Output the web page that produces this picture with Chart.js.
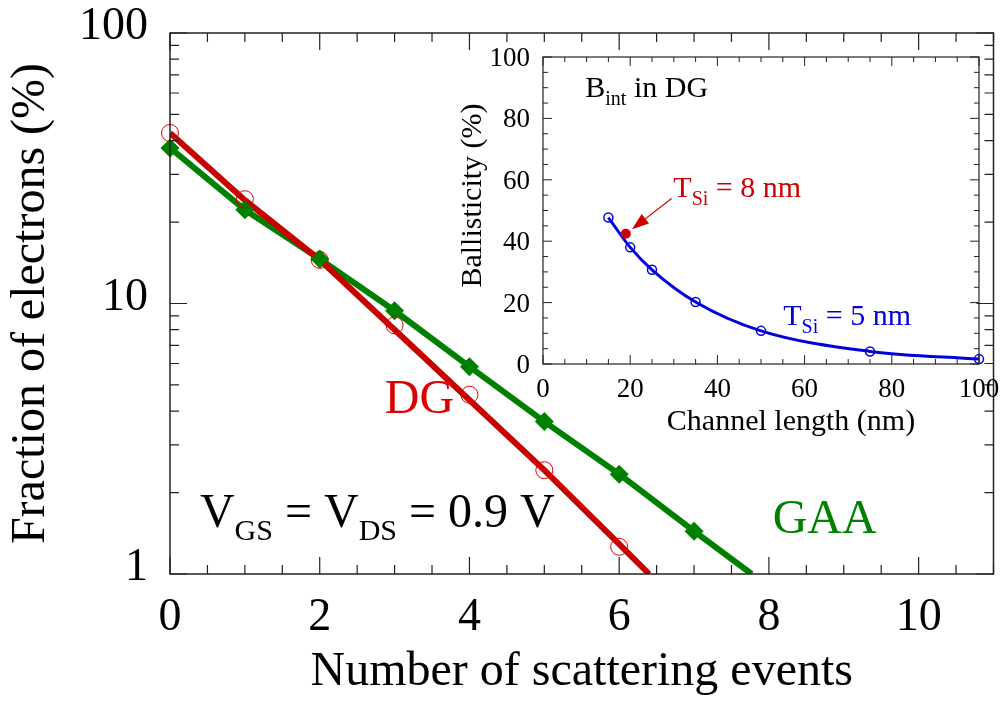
<!DOCTYPE html>
<html>
<head>
<meta charset="utf-8">
<script src="https://cdn.jsdelivr.net/npm/chart.js@4.4.1/dist/chart.umd.min.js"></script>
<style>
  html, body { margin: 0; padding: 0; background: #fff; }
  #wrap { position: relative; width: 1003px; height: 707px; }
  #mainChart { position: absolute; left: 0; top: 0; }
  #insetChart { position: absolute; left: 440px; top: 40px; }
</style>
</head>
<body>
<div id="wrap">
  <canvas id="mainChart" width="1003" height="707"></canvas>
  <canvas id="insetChart" width="560" height="420"></canvas>
</div>
<script>
const SERIF = '"Liberation Serif", "Times New Roman", serif';

// main plot: fraction of electrons vs number of scattering events
const dgEvents = [0, 1, 2, 3, 4, 5, 6];
const dgFraction = [42.7, 24.3, 14.5, 8.3, 4.6, 2.42, 1.26];
const dgFitEvents = [0, 1, 2, 3, 4, 5, 6, 6.4];
const dgFitFraction = [42.7, 24.1, 14.5, 8.0, 4.4, 2.42, 1.29, 1.0];
const gaaEvents = [0, 1, 2, 3, 4, 5, 6, 7];
const gaaFraction = [37.6, 22.2, 14.6, 9.4, 5.84, 3.66, 2.34, 1.44];
const gaaFitEvents = [0, 1, 2, 3, 4, 5, 6, 7, 7.77];
const gaaFitFraction = [37.6, 22.2, 14.6, 9.4, 5.84, 3.66, 2.34, 1.44, 1.0];
const mainXTicks = [0, 2, 4, 6, 8, 10];
const mainYTicks = [1, 10, 100];

// inset: ballisticity vs channel length
const channelLength = [15, 20, 25, 35, 50, 75, 100];
const ballisticity = [47.7, 38.0, 30.7, 20.2, 10.8, 4.1, 1.6];
const tsi8Length = [19];
const tsi8Ballisticity = [42.4];
const insetTicks = [0, 20, 40, 60, 80, 100];

const pts = (xs, ys) => xs.map((x, i) => ({ x, y: ys[i] }));

// fixed axis box sizes, and no extra room for the end labels
const fitX = h => s => { s.height = h; s.paddingLeft = 0; s.paddingRight = 0; };
const fitY = w => s => { s.width = w; s.paddingTop = 0; s.paddingBottom = 0; };

// box around the plot with ticks pointing inwards on all four sides
function framePlugin(cfg) {
  return {
    id: 'frame',
    afterDatasetsDraw(chart) {
      const { ctx, chartArea: a, scales: { x, y } } = chart;
      ctx.save();
      ctx.strokeStyle = '#222';
      ctx.lineWidth = cfg.lw;
      ctx.strokeRect(a.left, a.top, a.right - a.left, a.bottom - a.top);
      ctx.lineWidth = cfg.tw;
      ctx.beginPath();
      for (let v = x.min; v <= x.max + 1e-9; v += cfg.xStep) {
        const px = x.getPixelForValue(v);
        const r = v / cfg.xMajor;
        const len = Math.abs(r - Math.round(r)) < 1e-6 ? cfg.major : cfg.minor;
        ctx.moveTo(px, a.bottom); ctx.lineTo(px, a.bottom - len);
        ctx.moveTo(px, a.top); ctx.lineTo(px, a.top + len);
      }
      cfg.yTicks().forEach(([v, major]) => {
        const py = y.getPixelForValue(v);
        const len = major ? cfg.major : cfg.minor;
        ctx.moveTo(a.left, py); ctx.lineTo(a.left + len, py);
        ctx.moveTo(a.right, py); ctx.lineTo(a.right - len, py);
      });
      ctx.stroke();
      ctx.restore();
    }
  };
}

// text with subscripts: parts = [text, size, baseline shift]
function richText(ctx, x, y, parts, color) {
  ctx.save();
  ctx.fillStyle = color;
  ctx.textAlign = 'left';
  ctx.textBaseline = 'alphabetic';
  parts.forEach(([t, size, dy]) => {
    ctx.font = size + 'px ' + SERIF;
    ctx.fillText(t, x, y + (dy || 0));
    x += ctx.measureText(t).width;
  });
  ctx.restore();
}

const mainLabels = {
  id: 'mainLabels',
  afterDraw(chart) {
    const { ctx, scales: { x, y } } = chart;
    richText(ctx, x.getPixelForValue(2.87), y.getPixelForValue(3.94), [['DG', 48]], '#dd0000');
    richText(ctx, x.getPixelForValue(8.05), y.getPixelForValue(1.418), [['GAA', 48]], '#008000');
    richText(ctx, x.getPixelForValue(0.40), y.getPixelForValue(1.496), [
      ['V', 48], ['GS', 30, 13], [' = V', 48], ['DS', 30, 13], [' = 0.9 V', 48]
    ], '#000');
  }
};

const logMinor = () => {
  const out = [];
  [1, 10].forEach(d => { for (let k = 1; k <= 9; k++) out.push([k * d, k === 1]); });
  out.push([100, true]);
  return out;
};

const numFont = { family: SERIF, size: 46 };

new Chart(document.getElementById('mainChart'), {
  type: 'scatter',
  data: {
    datasets: [
      {
        data: pts(dgEvents, dgFraction),
        showLine: false,
        pointStyle: 'circle',
        pointRadius: 8.5,
        pointBorderWidth: 1,
        pointBorderColor: '#e00000',
        pointBackgroundColor: 'rgba(0,0,0,0)',
        clip: false
      },
      {
        data: pts(gaaEvents, gaaFraction),
        showLine: false,
        pointStyle: 'rectRot',
        pointRadius: 9.5,
        pointBorderWidth: 0,
        pointBackgroundColor: '#008000',
        clip: false
      },
      {
        data: pts(dgFitEvents, dgFitFraction),
        showLine: true,
        borderColor: '#c80000',
        borderWidth: 6,
        pointRadius: 0
      },
      {
        data: pts(gaaFitEvents, gaaFitFraction),
        showLine: true,
        borderColor: '#008000',
        borderWidth: 6,
        pointRadius: 0
      }
    ]
  },
  options: {
    responsive: false,
    animation: false,
    events: [],
    layout: { padding: { top: 33, right: 3, left: 0, bottom: 0 } },
    plugins: { legend: { display: false }, tooltip: { enabled: false } },
    scales: {
      x: {
        type: 'linear', min: 0, max: 11,
        afterBuildTicks: s => { s.ticks = mainXTicks.map(v => ({ value: v })); },
        afterFit: fitX(133),
        grid: { display: false, drawTicks: false },
        border: { display: false },
        ticks: { color: '#000', padding: 16, font: numFont, maxRotation: 0, autoSkip: false },
        title: {
          display: true, text: 'Number of scattering events', color: '#000',
          font: { family: SERIF, size: 48 }, padding: { top: 0, bottom: 6 }
        }
      },
      y: {
        type: 'logarithmic', min: 1, max: 100,
        afterBuildTicks: s => { s.ticks = mainYTicks.map(v => ({ value: v })); },
        afterFit: fitY(170),
        grid: { display: false, drawTicks: false },
        border: { display: false },
        ticks: { color: '#000', padding: 22, labelOffset: -6, font: numFont, callback: v => String(v) },
        title: {
          display: true, text: 'Fraction of electrons (%)', color: '#000',
          font: { family: SERIF, size: 48 }, padding: { top: 3, bottom: 0 }
        }
      }
    }
  },
  plugins: [
    framePlugin({ lw: 1.5, tw: 1.2, xStep: 0.5, xMajor: 2, major: 17, minor: 9, yTicks: logMinor }),
    mainLabels
  ]
});

const insetLabels = {
  id: 'insetLabels',
  afterDraw(chart) {
    const { ctx, chartArea: a, scales: { x, y } } = chart;
    richText(ctx, x.getPixelForValue(9.7), y.getPixelForValue(87), [['B', 30], ['int', 20, 8], [' in DG', 30]], '#000');
    richText(ctx, x.getPixelForValue(29.9), y.getPixelForValue(54.5), [['T', 30], ['Si', 20, 8], [' = 8 nm', 30]], '#cc0000');
    richText(ctx, x.getPixelForValue(55.1), y.getPixelForValue(12.8), [['T', 30], ['Si', 20, 8], [' = 5 nm', 30]], '#0000dd');

    // arrow pointing at the T_Si = 8 nm point
    const x0 = x.getPixelForValue(29.5), y0 = y.getPixelForValue(53.9);
    const x1 = x.getPixelForValue(20.4), y1 = y.getPixelForValue(43.9);
    const ang = Math.atan2(y1 - y0, x1 - x0);
    ctx.save();
    ctx.strokeStyle = '#cc0000';
    ctx.fillStyle = '#cc0000';
    ctx.lineWidth = 1.2;
    ctx.beginPath();
    ctx.moveTo(x0, y0);
    ctx.lineTo(x1 - 12 * Math.cos(ang), y1 - 12 * Math.sin(ang));
    ctx.stroke();
    ctx.beginPath();
    ctx.moveTo(x1, y1);
    ctx.lineTo(x1 - 17 * Math.cos(ang) + 6 * Math.sin(ang), y1 - 17 * Math.sin(ang) - 6 * Math.cos(ang));
    ctx.lineTo(x1 - 17 * Math.cos(ang) - 6 * Math.sin(ang), y1 - 17 * Math.sin(ang) + 6 * Math.cos(ang));
    ctx.closePath();
    ctx.fill();

    // axis titles (slightly off-centre in the original)
    ctx.fillStyle = '#000';
    ctx.font = '30px ' + SERIF;
    ctx.textAlign = 'center';
    ctx.textBaseline = 'alphabetic';
    ctx.fillText('Channel length (nm)', (a.left + a.right) / 2 + 30, a.bottom + 66);
    ctx.translate(a.left - 62, (a.top + a.bottom) / 2 - 15);
    ctx.rotate(-Math.PI / 2);
    ctx.fillText('Ballisticity (%)', 0, 0);
    ctx.restore();
  }
};

const insetFont = { family: SERIF, size: 27 };
const linearMinor = () => {
  const out = [];
  for (let v = 0; v <= 100; v += 5) out.push([v, v % 20 === 0]);
  return out;
};

new Chart(document.getElementById('insetChart'), {
  type: 'scatter',
  data: {
    datasets: [
      {
        data: pts(tsi8Length, tsi8Ballisticity),
        showLine: false,
        pointRadius: 5,
        pointBorderWidth: 0,
        pointBackgroundColor: '#cc0000',
        clip: false
      },
      {
        data: pts(channelLength, ballisticity),
        showLine: true,
        borderColor: '#0000dd',
        borderWidth: 3,
        cubicInterpolationMode: 'monotone',
        pointRadius: 4.5,
        pointBorderWidth: 1.5,
        pointBorderColor: '#0000dd',
        pointBackgroundColor: 'rgba(0,0,0,0)',
        clip: false
      }
    ]
  },
  options: {
    responsive: false,
    animation: false,
    events: [],
    layout: { padding: { top: 17, right: 21, left: 0, bottom: 0 } },
    plugins: { legend: { display: false }, tooltip: { enabled: false } },
    scales: {
      x: {
        type: 'linear', min: 0, max: 100,
        afterBuildTicks: s => { s.ticks = insetTicks.map(v => ({ value: v })); },
        afterFit: fitX(96),
        grid: { display: false, drawTicks: false },
        border: { display: false },
        ticks: { color: '#000', padding: 10, font: insetFont, maxRotation: 0, autoSkip: false }
      },
      y: {
        type: 'linear', min: 0, max: 100,
        afterBuildTicks: s => { s.ticks = insetTicks.map(v => ({ value: v })); },
        afterFit: fitY(103),
        grid: { display: false, drawTicks: false },
        border: { display: false },
        ticks: { color: '#000', padding: 13, labelOffset: 2, font: insetFont }
      }
    }
  },
  plugins: [
    framePlugin({ lw: 1.2, tw: 1, xStep: 5, xMajor: 20, major: 9, minor: 5, yTicks: linearMinor }),
    insetLabels
  ]
});
</script>
</body>
</html>
